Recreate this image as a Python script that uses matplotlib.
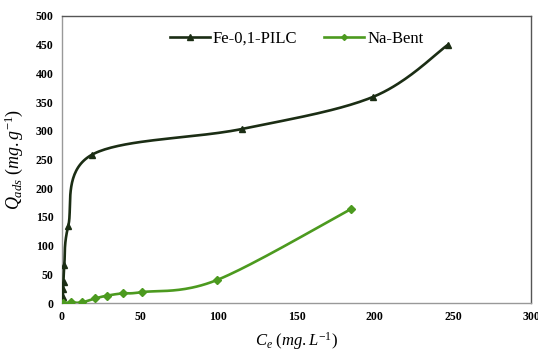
import numpy as np
import matplotlib.pyplot as plt

# isotherm data (Ce in mg/L, Qads in mg/g)
fe_ce = [0, 0.5, 0.7, 1.0, 1.5, 4, 19, 115, 199, 247]
fe_q = [0, 11, 24, 37, 66, 134, 258, 303, 359, 450]

na_ce = [0.5, 6, 12.5, 21, 29, 39, 51, 99, 185]
na_q = [0, 1, 1, 8, 13, 17, 19, 40, 164]

x_ticks = [0, 50, 100, 150, 200, 250, 300]
y_ticks = [0, 50, 100, 150, 200, 250, 300, 350, 400, 450, 500]


def smooth(x, y, n=40):
    # spreadsheet-style smoothed line: cubic bezier through each point
    p = np.column_stack([x, y]).astype(float)
    p = np.vstack([p[0], p, p[-1]])
    t = np.linspace(0, 1, n)[:, None]
    out = []
    for i in range(1, len(p) - 2):
        p0, p1, p2, p3 = p[i - 1], p[i], p[i + 1], p[i + 2]
        c1 = p1 + (p2 - p0) / 6
        c2 = p2 - (p3 - p1) / 6
        seg = ((1 - t) ** 3) * p1 + 3 * ((1 - t) ** 2) * t * c1 \
            + 3 * (1 - t) * t ** 2 * c2 + t ** 3 * p2
        out.append(seg)
    out = np.vstack(out)
    return out[:, 0], out[:, 1]


plt.rcParams['font.family'] = ['Liberation Serif', 'DejaVu Serif']
plt.rcParams['mathtext.fontset'] = 'custom'
plt.rcParams['mathtext.rm'] = 'Liberation Serif'
plt.rcParams['mathtext.it'] = 'Liberation Serif:italic'

fig = plt.figure(figsize=(5.38, 3.52), dpi=100)
ax = fig.add_axes([0.1152, 0.139, 0.872, 0.816])

fe_col = '#1b2d14'
na_col = '#4c9a1f'

sx, sy = smooth(fe_ce, fe_q)
ax.plot(sx, sy, color=fe_col, lw=1.9, zorder=3)
ax.plot(fe_ce, fe_q, ls='none', marker='^', ms=5, color=fe_col, zorder=4)
ax.plot([], [], color=fe_col, lw=1.9, marker='^', ms=5, label='Fe-0,1-PILC')

sx, sy = smooth(na_ce, na_q)
ax.plot(sx, sy, color=na_col, lw=1.9, zorder=3)
ax.plot(na_ce, na_q, ls='none', marker='D', ms=4, color=na_col, zorder=4)
ax.plot([], [], color=na_col, lw=1.9, marker='D', ms=3, label='Na-Bent')

ax.set_xlim(0, 300)
ax.set_ylim(0, 500)
ax.set_xticks(x_ticks)
ax.set_yticks(y_ticks)
ax.tick_params(length=0, pad=6, labelsize=8.5)
for lab in ax.get_xticklabels() + ax.get_yticklabels():
    lab.set_fontweight('bold')

for s in ax.spines.values():
    s.set_color('#555555')
    s.set_linewidth(1.0)
ax.spines['left'].set_color('#999999')
ax.spines['bottom'].set_color('#999999')

ax.set_xlabel(r'$C_e\ (mg.L^{-1})$', fontsize=12, labelpad=5)
ax.set_ylabel(r'$Q_{ads}\ (mg.g^{-1})$', fontsize=13, labelpad=8)

ax.legend(loc='upper center', bbox_to_anchor=(0.5, 1.0), ncol=2, frameon=False,
          fontsize=12, handlelength=2.4, handletextpad=0.2, columnspacing=1.6)

fig.savefig('out.png', dpi=100)
